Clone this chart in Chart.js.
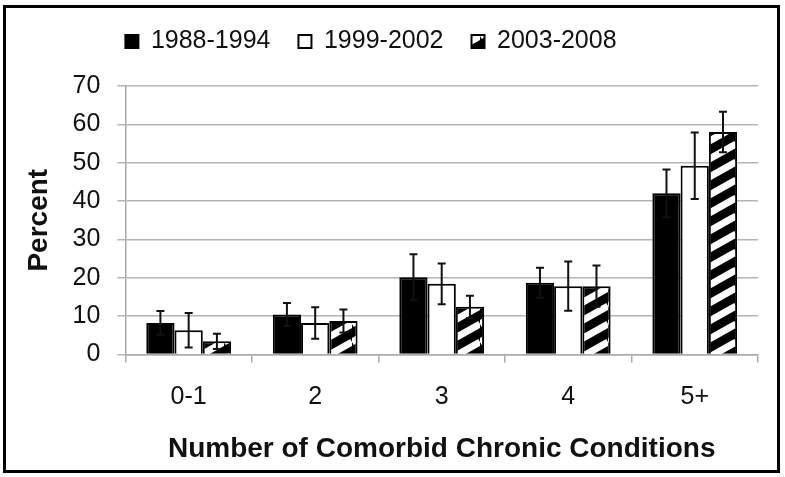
<!DOCTYPE html>
<html>
<head>
<meta charset="utf-8">
<script src="https://cdn.jsdelivr.net/npm/chart.js@4"></script>
<style>
  html,body{margin:0;padding:0;background:#fff;}
  #wrap{position:relative;width:785px;height:477px;}
  #frame{position:absolute;left:3px;top:5px;width:777px;height:468px;border:3px solid #000;box-sizing:border-box;pointer-events:none;}
</style>
</head>
<body>
<div id="wrap">
  <canvas id="chart" width="785" height="477"></canvas>
  <div id="frame"></div>
</div>
<script>
const categories = ['0-1', '2', '3', '4', '5+'];
const seriesNames = ['1988-1994', '1999-2002', '2003-2008'];
const values1988 = [8.2, 10.4, 20.1, 18.7, 42.0];
const values1999 = [6.3, 8.2, 18.4, 17.8, 49.2];
const values2003 = [3.4, 8.7, 12.4, 17.8, 58.0];
const err1988 = [3.1, 3.0, 6.0, 3.9, 6.2];
const err1999 = [4.5, 4.1, 5.3, 6.4, 8.7];
const err2003 = [2.0, 3.0, 2.9, 5.4, 5.3];
const yTicks = [0, 10, 20, 30, 40, 50, 60, 70];

const FONT = "'Liberation Sans', Arial, sans-serif";

// diagonal hatch: black with white "/" stripes
function makeHatch(){
  const c = document.createElement('canvas');
  c.width = 32; c.height = 18;
  const g = c.getContext('2d');
  g.fillStyle = '#000';
  g.fillRect(0,0,32,18);
  g.strokeStyle = '#fff';
  g.lineWidth = 7;
  for(let k=-1;k<=1;k++){
    g.beginPath();
    g.moveTo(0, 18 + k*18);
    g.lineTo(32, k*18);
    g.stroke();
  }
  return g.createPattern(c, 'repeat');
}
const hatch = makeHatch();

const errors = [err1988, err1999, err2003];

const errorBars = {
  id: 'errorBars',
  afterDatasetsDraw(chart){
    const ctx = chart.ctx;
    const y = chart.scales.y;
    ctx.save();
    ctx.strokeStyle = '#111';
    ctx.lineWidth = 2;
    chart.data.datasets.forEach((ds, di)=>{
      const meta = chart.getDatasetMeta(di);
      meta.data.forEach((bar, i)=>{
        const v = ds.data[i], e = errors[di][i];
        const yt = y.getPixelForValue(v + e), yb = y.getPixelForValue(v - e);
        ctx.beginPath();
        ctx.moveTo(bar.x, yt); ctx.lineTo(bar.x, yb);
        ctx.moveTo(bar.x - 4, yt); ctx.lineTo(bar.x + 4, yt);
        ctx.moveTo(bar.x - 4, yb); ctx.lineTo(bar.x + 4, yb);
        ctx.stroke();
      });
    });
    ctx.restore();
  }
};

const legendShift = {
  id: 'legendShift',
  afterLayout(chart){
    const lg = chart.legend;
    const pad = lg.options.labels.padding;
    lg.left = chart.chartArea.left - pad;
    lg.top -= 22; lg.bottom -= 22;
  }
};

new Chart(document.getElementById('chart').getContext('2d'), {
  type: 'bar',
  data: {
    labels: categories,
    datasets: [
      {label: seriesNames[0], data: values1988, backgroundColor: '#000', borderColor: '#000', borderWidth: 2},
      {label: seriesNames[1], data: values1999, backgroundColor: '#fff', borderColor: '#000', borderWidth: 2},
      {label: seriesNames[2], data: values2003, backgroundColor: hatch, borderColor: '#000', borderWidth: 2}
    ]
  },
  options: {
    responsive: false,
    animation: false,
    devicePixelRatio: 1,
    layout: {padding: {left: 8, right: 27, top: 23, bottom: 11}},
    datasets: {bar: {categoryPercentage: 0.67, barPercentage: 1}},
    plugins: {
      tooltip: {enabled: false},
      legend: {
        position: 'top',
        align: 'start',
        labels: {
          color: '#111',
          font: {family: FONT, size: 25},
          boxWidth: 13, boxHeight: 13,
          padding: 28
        }
      }
    },
    scales: {
      x: {
        grid: {display: true, drawOnChartArea: false, drawTicks: true, tickLength: 8, color: '#aaa', lineWidth: 1.5},
        border: {color: '#aaa', width: 1.5},
        ticks: {color: '#111', font: {family: FONT, size: 25}, padding: 20},
        title: {display: true, text: 'Number of Comorbid Chronic Conditions', color: '#111',
          font: {family: FONT, size: 28, weight: 'bold'}, padding: {top: 0, bottom: 0}}
      },
      y: {
        min: 0, max: 70,
        afterBuildTicks(axis){ axis.ticks = yTicks.map(v=>({value: v})); },
        grid: {color: '#b4b4b4', lineWidth: 1.5, tickLength: 8},
        border: {color: '#aaa', width: 1.5},
        ticks: {color: '#111', font: {family: FONT, size: 25}, padding: 17},
        title: {display: true, text: 'Percent', color: '#111',
          font: {family: FONT, size: 28, weight: 'bold'}, padding: {top: 14, bottom: 0}}
      }
    }
  },
  plugins: [errorBars, legendShift]
});
</script>
</body>
</html>
